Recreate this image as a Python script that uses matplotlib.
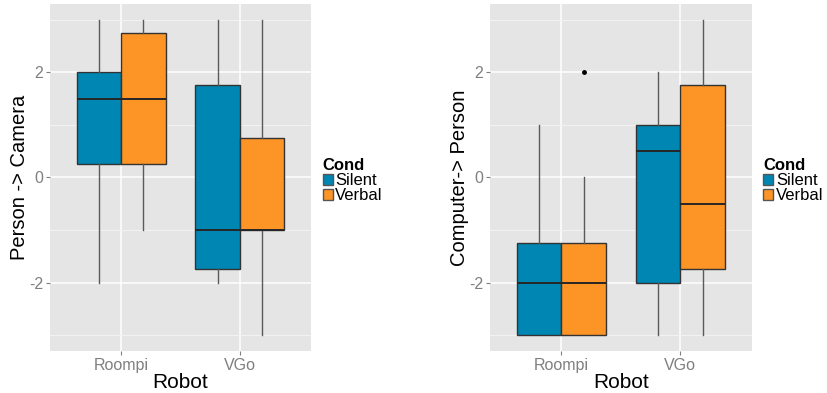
import matplotlib
matplotlib.use("Agg")
import matplotlib.pyplot as plt
from matplotlib.patches import Patch

plt.rcParams['font.family'] = ['Liberation Sans', 'DejaVu Sans']

robots = ["Roompi", "VGo"]
conds = ["Silent", "Verbal"]
colors = {"Silent": "#0086B3", "Verbal": "#FC9426"}

# five-number summaries: (whislo, q1, med, q3, whishi, fliers)
person_camera = {
    ("Roompi", "Silent"): (-2, 0.25, 1.5, 2.0, 3, []),
    ("Roompi", "Verbal"): (-1, 0.25, 1.5, 2.75, 3, []),
    ("VGo", "Silent"): (-2, -1.75, -1.0, 1.75, 3, []),
    ("VGo", "Verbal"): (-3, -1.0, -1.0, 0.75, 3, []),
}
computer_person = {
    ("Roompi", "Silent"): (-3, -3.0, -2.0, -1.25, 1, []),
    ("Roompi", "Verbal"): (-3, -3.0, -2.0, -1.25, 0, [2]),
    ("VGo", "Silent"): (-3, -2.0, 0.5, 1.0, 2, []),
    ("VGo", "Verbal"): (-3, -1.75, -0.5, 1.75, 3, []),
}

panels = [("Person -> Camera", person_camera), ("Computer-> Person", computer_person)]

fig = plt.figure(figsize=(8.27, 3.93), dpi=100)
axes_pos = [[0.0605, 0.107, 0.3155, 0.883], [0.5925, 0.107, 0.3165, 0.883]]

bw = 0.375
for (ylabel, data), pos in zip(panels, axes_pos):
    ax = fig.add_axes(pos)
    ax.set_facecolor("#E5E5E5")
    for sp in ax.spines.values():
        sp.set_visible(False)
    ax.set_xlim(0.4, 2.6)
    ax.set_ylim(-3.3, 3.3)
    ax.set_yticks([-2, 0, 2])
    ax.set_yticklabels(["-2", "0", "2"])
    ax.set_yticks([-3, -1, 1, 3], minor=True)
    ax.set_xticks([1, 2])
    ax.set_xticklabels(robots)
    ax.grid(which="major", color="white", linewidth=1.1)
    ax.grid(which="minor", axis="y", color="#F2F2F2", linewidth=0.8)
    ax.set_axisbelow(True)
    ax.tick_params(which="major", length=3, color="#7F7F7F", labelcolor="#7F7F7F",
                   labelsize=11.5, pad=2)
    ax.tick_params(which="minor", length=0)

    for i, r in enumerate(robots):
        for j, c in enumerate(conds):
            lo, q1, med, q3, hi, fl = data[(r, c)]
            x = i + 1 + (j - 0.5) * bw
            st = [dict(whislo=lo, q1=q1, med=med, q3=q3, whishi=hi, fliers=fl)]
            ax.bxp(st, positions=[x], widths=bw, patch_artist=True, showcaps=False,
                   boxprops=dict(facecolor=colors[c], edgecolor="#333333", linewidth=1.0),
                   whiskerprops=dict(color="#5A5A5A", linewidth=1.0),
                   medianprops=dict(color="#262626", linewidth=1.4),
                   flierprops=dict(marker="o", markersize=2.5, markerfacecolor="black",
                                   markeredgecolor="black"),
                   manage_ticks=False, zorder=3)

    ax.set_xlabel("Robot", fontsize=15, labelpad=0)
    ax.set_ylabel(ylabel, fontsize=14.5, labelpad=0)

    handles = [Patch(facecolor=colors[c], edgecolor="#555555", label=c) for c in conds]
    leg = ax.legend(handles=handles, title="Cond", loc="center left",
                    bbox_to_anchor=(1.0, 0.49), frameon=False, fontsize=12,
                    title_fontsize=12, handlelength=0.6, handleheight=0.7,
                    handletextpad=0.15, labelspacing=0.0, borderpad=0.1,
                    borderaxespad=0.6)
    leg.get_title().set_fontweight("bold")
    leg._legend_box.align = "left"

fig.savefig("out.png", dpi=100)
